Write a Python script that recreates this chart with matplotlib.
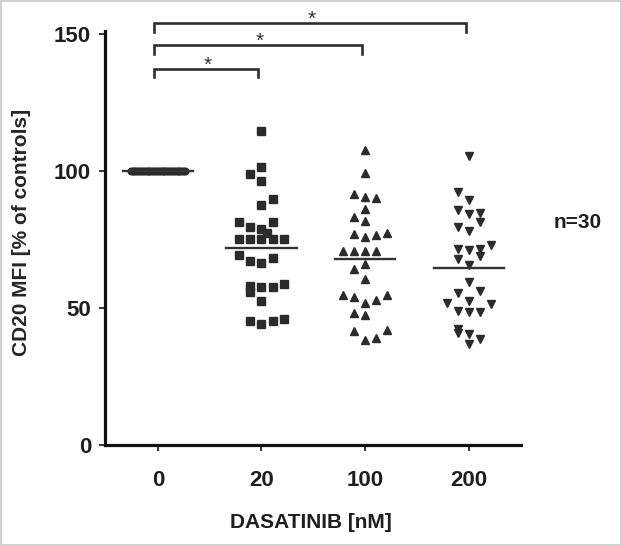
import numpy as np
import matplotlib
matplotlib.use("Agg")
import matplotlib.pyplot as plt
from matplotlib.patches import Rectangle

plt.rcParams['font.family'] = ['Liberation Sans', 'DejaVu Sans']

# categories
doses = ["0", "20", "100", "200"]

# CD20 MFI values (% of controls)
vals_0 = [100.0] * 30
vals_20 = [114.6, 101.5, 99.1, 96.4, 89.7, 87.7, 81.5, 81.5, 79.8, 79.1,
           77.4, 75.2, 75.2, 75.2, 75.2, 75.2, 69.4, 68.5, 67.3, 66.4,
           58.8, 58.2, 55.8, 57.8, 57.8, 52.7, 45.2, 44.3, 45.2, 46.1]
vals_100 = [107.7, 99.4, 91.6, 90.7, 90.2, 86.4, 83.3, 81.9, 77.2, 76.1,
            76.8, 77.6, 70.9, 70.9, 70.9, 70.9, 66.0, 64.2, 60.8, 54.7,
            54.1, 52.0, 52.9, 54.7, 48.3, 47.5, 41.6, 38.6, 39.2, 42.1]
vals_200 = [105.6, 92.3, 89.5, 86.0, 84.4, 84.7, 81.6, 79.8, 78.1, 73.1,
            71.6, 71.3, 71.6, 69.0, 68.0, 65.9, 59.5, 56.2, 55.6, 52.8,
            51.9, 51.6, 48.9, 48.6, 48.6, 42.5, 41.1, 40.7, 38.9, 36.8]

# swarm column of each point (layout only)
cols_20 = [0, 0, -1, 0, 1, 0, -2, 1, -1, 0,
           0.5, -2, -1, 0, 1, 2, -2, 1, -1, 0,
           2, -1, -1, 0, 1, 0, -1, 0, 1, 2]
cols_100 = [0, 0, -1, 0, 1, 0, -1, 0, -1, 0,
            1, 2, -2, -1, 0, 1, 0, -1, 0, -2,
            -1, 0, 1, 2, -1, 0, -1, 0, 1, 2]
cols_200 = [0, -1, 0, -1, 0, 1, 1, -1, 0, 2,
            -1, 0, 1, 1, -1, 0, 0, 1, -1, 0,
            -2, 2, -1, 0, 1, -1, -1, 0, 1, 0]
cols_0 = list(np.linspace(-2.45, 2.45, 30))

# significance brackets: (left, right, top)
brackets = [(0, 1, 137.5), (0, 2, 146.0), (0, 3, 154.2)]

col_w = 0.107
mark = '#2b2b2b'
txt = '#1e1e1e'

fig = plt.figure(figsize=(6.22, 5.46), dpi=100)
ax = fig.add_axes([105 / 622, (546 - 445.3) / 546, (520.6 - 105) / 622, (445.3 - 30.7) / 546])

groups = [(vals_0, cols_0, 'o', 4.8), (vals_20, cols_20, 's', 5.5),
          (vals_100, cols_100, '^', 5.2), (vals_200, cols_200, 'v', 5.2)]
half = [0.34, 0.34, 0.29, 0.34]
for i, (v, c, m, ms) in enumerate(groups):
    x = i + np.array(c) * col_w
    ax.plot(x, v, linestyle='none', marker=m, ms=ms, color=mark, mec=mark, clip_on=False, zorder=3)
    mu = np.mean(v)
    ax.plot([i - half[i], i + half[i]], [mu, mu], color='#333333', lw=1.7, zorder=4, clip_on=False)

for a, b, top in brackets:
    xl, xr = a - 0.04, b - 0.03
    ax.plot([xl, xl, xr, xr], [top - 3.2, top, top, top - 3.2], color='#2e2e2e', lw=1.9,
            clip_on=False, solid_joinstyle='miter')
    ax.text((xl + xr) / 2 + 0.02, top - 2.2, '*', ha='center', va='bottom', fontsize=15, color='#333333')

ax.set_xlim(-0.51, 3.5)
ax.set_ylim(0, 151.3)
ax.set_xticks(range(4))
ax.set_xticklabels(doses)
ax.set_yticks([0, 50, 100, 150])

for s in ['top', 'right']:
    ax.spines[s].set_visible(False)
for s in ['left', 'bottom']:
    ax.spines[s].set_linewidth(2.3)
    ax.spines[s].set_color('#111111')

ax.tick_params(axis='x', length=4, width=1.2, pad=14, labelsize=16, colors='#111111')
ax.tick_params(axis='y', length=4, width=1.2, pad=6, labelsize=16, colors='#111111')
for lab in ax.get_xticklabels() + ax.get_yticklabels():
    lab.set_fontweight('bold')
    lab.set_color(txt)

fig.text(22 / 622, 1 - 232 / 546, 'CD20 MFI [% of controls]', rotation=90, ha='center', va='center',
         fontsize=15, fontweight='bold', color='#262626')
fig.text(311 / 622, 1 - 522 / 546, 'DASATINIB [nM]', ha='center', va='center',
         fontsize=15, fontweight='bold', color=txt)
fig.text(578 / 622, 1 - 222 / 546, 'n=30', ha='center', va='center',
         fontsize=15, fontweight='bold', color=txt)

fig.patches.append(Rectangle((0.002, 0.002), 0.996, 0.996, transform=fig.transFigure,
                             fill=False, edgecolor='#c8c8c8', lw=1.2))

fig.savefig('out.png', dpi=100)
